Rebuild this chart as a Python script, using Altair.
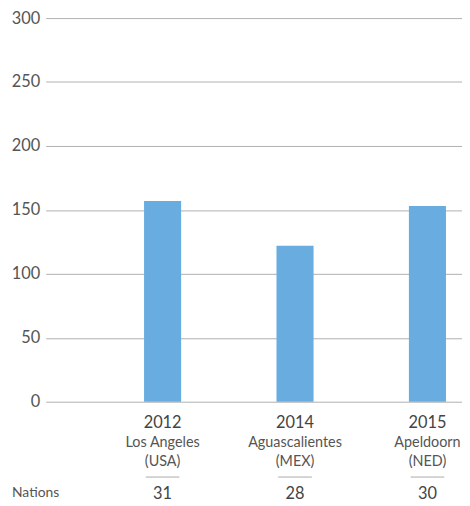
import altair as alt
import pandas as pd

years = ["2012", "2014", "2015"]
cities = ["Los Angeles", "Aguascalientes", "Apeldoorn"]
countries = ["(USA)", "(MEX)", "(NED)"]
values = [157, 122, 153]
nations = ["31", "28", "30"]

df = pd.DataFrame({"year": years, "city": cities, "country": countries,
                   "value": values, "nations": nations})

FONT = "Lato"
xs = alt.Scale(paddingInner=0.72, paddingOuter=0.432, align=0.86, round=False)
xenc = alt.X("year:N", scale=xs, axis=None, sort=years)

base = alt.Chart(df)

bars = base.mark_bar(color="#69ADE0").encode(
    x=xenc,
    y=alt.Y("value:Q", scale=alt.Scale(domain=[0, 300]),
            axis=alt.Axis(values=[0, 50, 100, 150, 200, 250, 300], title=None,
                          domain=False, ticks=False, labelPadding=6,
                          labelFontSize=16.5, labelColor="#555", labelFont=FONT,
                          gridColor="#b0b0b0", gridWidth=1)),
)

def txt(field, yv, size, color="#444"):
    return base.mark_text(font=FONT, fontSize=size, color=color, baseline="middle").encode(
        x=xenc, y=alt.value(yv), text=f"{field}:N")

t_year = txt("year", 409, 16.5)
t_city = txt("city", 429, 14.5, "#555")
t_country = txt("country", 448, 14.5, "#555")
t_nat = txt("nations", 480, 16.5)

sep = base.mark_rule(color="#aaa", strokeWidth=1, xOffset=-17, x2Offset=17).encode(
    x=xenc, x2="year:N", y=alt.value(463))

nat_label = alt.Chart(pd.DataFrame({"t": ["Nations"]})).mark_text(
    font=FONT, fontSize=14, color="#555", align="left", baseline="middle").encode(
    x=alt.value(-34), y=alt.value(479), text="t:N")

chart = alt.layer(bars, sep, t_year, t_city, t_country, t_nat, nat_label).properties(
    width=420, height=387,
    autosize=alt.AutoSizeParams(type="none"),
    padding={"left": 38, "top": 8, "right": 0, "bottom": 100},
).configure_view(stroke=None)

chart.save("out.html", embed_options={"renderer": "svg", "actions": False})
